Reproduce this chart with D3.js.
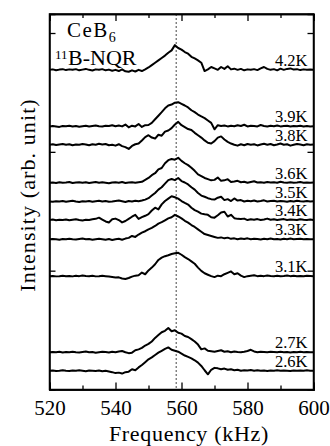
<!DOCTYPE html>
<html>
<head>
<meta charset="utf-8">
<script src="https://cdn.jsdelivr.net/npm/d3@7"></script>
<style>
  body { margin: 0; background: #fff; }
  svg text, svg tspan { font-family: "Liberation Serif", "Times New Roman", serif; fill: #000; }
</style>
</head>
<body>
<div id="chart"></div>
<script>
// frequency grid (kHz) and temperatures
const freqs = d3.range(520, 601, 1);
const temps = ['4.2K', '3.9K', '3.8K', '3.6K', '3.5K', '3.4K', '3.3K', '3.1K', '2.7K', '2.6K'];
// vertical offsets of each spectrum (arb. unit)
const offsets = [13.45, 11.07, 10.30, 8.70, 7.91, 7.13, 6.32, 4.77, 1.57, 0.79];
const xTicks = [520, 540, 560, 580, 600];
const yTicks = [5, 10, 15];
const markerFreq = 558.4;

// intensities, 520 -> 600 kHz in 1 kHz steps
const s42 = [0.0,0.02,-0.02,0.01,0.03,-0.01,0.02,0.0,0.03,-0.02,0.01,0.04,0.0,-0.03,0.02,0.0,0.03,-0.02,0.01,-0.04,
  0.0,-0.05,0.02,-0.06,-0.08,-0.02,-0.07,0.0,-0.05,0.02,0.1,0.2,0.3,0.4,0.5,0.6,0.72,0.82,1.04,0.92,
  0.85,0.75,0.68,0.55,0.48,0.4,0.3,-0.05,0.02,0.12,0.06,0.0,0.12,0.04,0.15,0.02,0.05,0.0,0.04,-0.02,
  0.02,0.0,0.03,-0.01,0.06,0.12,0.04,0.0,0.03,-0.02,0.05,0.0,0.04,0.06,0.01,0.03,-0.01,0.02,0.0,0.01,0.0];
const s39 = [0.0,0.02,0.0,-0.02,0.02,0.01,0.03,0.0,0.02,-0.01,0.01,0.03,0.0,0.02,0.04,0.01,0.0,0.03,0.02,0.05,
  0.01,0.04,0.0,0.08,-0.04,0.03,0.0,0.1,-0.02,0.05,0.06,0.15,0.3,0.45,0.6,0.76,0.88,0.92,1.0,1.02,
  0.95,0.88,0.8,0.68,0.6,0.5,0.42,0.35,0.25,0.15,-0.12,0.05,0.02,0.04,0.0,0.03,0.01,0.05,0.02,0.07,
  0.0,0.03,0.02,0.0,0.06,0.02,0.0,0.03,0.01,0.04,0.0,0.02,0.03,0.0,0.02,0.01,0.03,0.0,0.02,0.0,0.01];
const s38 = [0.0,0.02,-0.01,0.01,0.03,0.0,0.02,-0.02,0.01,0.0,0.03,0.01,-0.02,0.02,0.0,0.04,0.01,0.03,-0.02,0.0,
  -0.04,0.02,-0.06,-0.1,-0.18,-0.05,0.02,0.05,0.18,0.32,0.4,0.3,0.26,0.42,0.38,0.55,0.6,0.7,0.85,0.96,
  0.82,0.74,0.66,0.62,0.5,0.4,0.3,0.18,0.08,0.05,0.15,0.3,0.35,0.22,0.12,0.05,0.0,-0.04,0.02,-0.02,
  0.03,0.0,0.02,-0.03,0.01,0.04,0.0,0.03,-0.02,0.01,0.05,0.0,0.02,-0.04,0.0,0.03,0.01,-0.02,0.02,0.0,0.01];
const s36 = [0.0,0.01,-0.01,0.02,0.0,0.01,0.03,-0.01,0.01,0.02,0.0,0.02,-0.01,0.01,0.03,0.0,0.02,0.0,-0.02,0.01,
  0.02,0.0,0.03,-0.01,0.01,0.02,0.0,0.02,0.04,0.12,0.2,0.32,0.4,0.56,0.62,0.82,0.95,1.0,0.97,1.05,
  0.92,0.82,0.74,0.63,0.5,0.35,0.28,0.2,0.15,0.1,0.12,0.22,0.08,0.1,0.15,0.03,0.05,0.08,0.02,0.04,
  0.0,0.03,0.06,0.01,0.02,0.0,0.03,0.01,0.02,0.0,0.04,0.01,0.0,0.02,0.0,0.01,0.03,0.0,0.01,0.0,0.01];
const s35 = [0.0,-0.01,0.01,0.0,0.02,-0.01,0.01,0.03,0.0,-0.02,0.01,0.0,0.02,-0.01,0.01,0.03,0.0,0.02,-0.01,0.0,
  0.02,0.04,0.01,-0.02,0.02,0.0,0.03,0.01,0.04,0.08,0.14,0.25,0.36,0.5,0.6,0.75,0.9,0.95,0.9,0.99,
  0.86,0.8,0.72,0.6,0.5,0.36,0.25,0.2,0.14,0.1,0.08,0.16,0.2,0.06,0.1,0.02,0.13,0.04,0.06,0.0,
  0.03,0.01,0.04,0.0,0.02,0.05,0.0,0.02,0.03,0.0,0.02,0.01,-0.01,0.02,0.0,0.03,0.01,0.0,0.02,0.0,0.01];
const s34 = [0.0,0.02,-0.01,0.01,0.0,0.02,-0.01,0.01,0.03,0.0,-0.02,0.01,0.0,0.03,0.05,0.1,0.02,-0.06,-0.1,0.03,
  0.06,0.0,-0.1,-0.04,0.05,0.14,0.22,0.05,0.12,0.18,0.25,0.4,0.52,0.45,0.66,0.8,0.9,1.0,0.96,0.9,
  0.8,0.72,0.65,0.52,0.42,0.35,0.27,0.24,0.22,0.12,0.1,0.2,0.32,0.35,0.15,0.22,0.08,0.05,0.04,0.06,
  0.0,0.03,0.01,0.04,0.0,0.02,0.06,0.01,0.03,0.0,0.02,0.04,0.0,0.02,0.01,0.0,0.03,0.01,0.0,0.02,0.0];
const s33 = [0.0,0.01,0.0,-0.02,0.01,0.0,0.02,0.0,-0.01,0.01,0.03,0.0,0.01,-0.02,0.0,0.02,0.0,-0.02,0.01,-0.03,
  0.0,0.02,-0.02,0.03,0.06,0.14,0.1,0.2,0.28,0.34,0.42,0.48,0.56,0.66,0.72,0.8,0.88,0.93,1.03,0.96,
  0.88,0.78,0.7,0.6,0.52,0.42,0.32,0.22,0.18,0.14,0.1,0.06,0.08,0.04,0.07,0.02,0.04,0.0,0.03,0.01,
  0.04,0.0,0.02,0.01,-0.01,0.02,0.0,0.03,0.0,0.01,-0.01,0.02,0.0,0.03,0.0,0.01,0.02,0.0,0.01,0.0,0.0];
const s31 = [0.0,0.01,-0.01,0.0,0.02,0.0,0.01,-0.01,0.02,0.0,0.03,0.01,0.0,0.02,-0.01,0.0,0.02,0.0,-0.02,-0.04,
  -0.06,-0.05,-0.1,-0.12,-0.08,-0.02,0.02,0.04,0.15,0.08,0.24,0.36,0.5,0.68,0.78,0.84,0.88,0.93,0.96,0.98,
  0.9,0.8,0.72,0.62,0.52,0.36,0.22,0.12,0.06,0.0,-0.04,0.02,0.0,0.08,0.14,0.2,0.08,0.12,0.02,-0.04,
  0.0,0.02,0.04,0.0,0.02,0.0,0.03,0.01,0.0,0.02,0.0,0.01,0.03,0.0,0.02,0.0,0.01,0.0,0.02,0.01,0.0];
const s27 = [0.0,0.01,0.0,0.02,-0.01,0.01,0.0,0.02,0.0,-0.01,0.01,0.03,0.0,0.01,-0.02,0.0,0.02,0.01,-0.01,0.02,
  0.0,0.03,0.05,0.0,-0.04,-0.02,0.08,0.12,0.18,0.28,0.35,0.45,0.6,0.72,0.84,0.9,1.02,0.88,0.92,0.82,
  0.78,0.68,0.64,0.55,0.45,0.32,0.12,0.16,0.06,0.04,0.02,0.05,0.08,0.02,0.04,0.0,0.03,0.01,0.0,0.02,
  0.05,0.1,0.03,0.0,0.02,0.01,0.0,0.02,0.01,0.0,0.02,0.0,0.01,-0.01,0.01,0.0,0.02,0.0,0.01,0.0,0.0];
const s26 = [0.0,0.01,-0.01,0.0,0.02,0.0,-0.01,0.01,0.0,0.02,0.0,-0.02,0.01,0.0,-0.01,0.01,-0.02,0.0,-0.03,-0.06,
  -0.1,-0.08,-0.12,-0.06,-0.04,0.06,0.02,0.14,0.24,0.36,0.48,0.56,0.66,0.76,0.84,0.92,0.98,0.88,0.84,0.8,
  0.72,0.64,0.58,0.52,0.44,0.34,0.2,0.02,-0.15,0.04,0.12,0.1,0.06,0.09,0.04,0.06,0.02,0.04,0.0,0.02,
  0.01,0.03,0.0,0.02,0.0,0.01,-0.01,0.01,0.0,0.02,0.0,0.01,0.0,-0.01,0.01,0.0,0.01,0.0,0.02,0.0,0.0];
const spectra = [s42, s39, s38, s36, s35, s34, s33, s31, s27, s26];

const margin = { top: 14, right: 16.5, bottom: 56.5, left: 49.5 };
const width = 330 - margin.left - margin.right;
const height = 446 - margin.top - margin.bottom;

const x = d3.scaleLinear().domain([520, 600]).range([0, width]);
const y = d3.scaleLinear().domain([0, 15.8]).range([height, 0]);

const svg = d3.select('#chart')
  .append('svg')
  .attr('width', 330)
  .attr('height', 446);

const g = svg.append('g')
  .attr('transform', `translate(${margin.left},${margin.top})`);

// dotted marker line
g.append('line')
  .attr('x1', x(markerFreq)).attr('x2', x(markerFreq))
  .attr('y1', 0).attr('y2', height)
  .attr('stroke', '#666')
  .attr('stroke-width', 1.2)
  .attr('stroke-dasharray', '2,2');

// spectra
const line = d3.line()
  .x((d, i) => x(freqs[i]))
  .y(d => y(d));

spectra.forEach((s, k) => {
  g.append('path')
    .datum(s.map(v => v + offsets[k]))
    .attr('fill', 'none')
    .attr('stroke', '#000')
    .attr('stroke-width', 2)
    .attr('stroke-linejoin', 'round')
    .attr('d', line);

  g.append('text')
    .attr('x', width - 6)
    .attr('y', y(offsets[k]) - 4)
    .attr('text-anchor', 'end')
    .attr('font-size', 16.5)
    .text(temps[k]);
});

// axes (ticks inward)
const minor = d3.range(530, 600, 20);
g.append('g')
  .attr('transform', `translate(0,${height})`)
  .call(d3.axisBottom(x).tickValues(xTicks).tickSize(-7).tickPadding(10.5).tickFormat(d3.format('d')))
  .call(a => a.selectAll('text').attr('font-size', 21));
g.append('g')
  .attr('transform', `translate(0,${height})`)
  .call(d3.axisBottom(x).tickValues(minor).tickSize(-4).tickFormat(''));
g.append('g')
  .call(d3.axisTop(x).tickValues(xTicks).tickSize(-7).tickFormat(''));
g.append('g')
  .call(d3.axisTop(x).tickValues(minor).tickSize(-4).tickFormat(''));
g.append('g')
  .call(d3.axisLeft(y).tickValues(yTicks).tickSize(-6).tickFormat(''));
g.append('g')
  .attr('transform', `translate(${width},0)`)
  .call(d3.axisRight(y).tickValues(yTicks).tickSize(-6).tickFormat(''));

g.selectAll('.domain').attr('stroke', '#000').attr('stroke-width', 1.5);
g.selectAll('.tick line').attr('stroke', '#000').attr('stroke-width', 1.3);
g.selectAll('.tick text').attr('font-family', '"Liberation Serif", serif');

g.append('rect')
  .attr('width', width).attr('height', height)
  .attr('fill', 'none').attr('stroke', '#000').attr('stroke-width', 1.5);

// titles
svg.append('text')
  .attr('x', 189)
  .attr('y', 441)
  .attr('text-anchor', 'middle')
  .attr('font-size', 22)
  .attr('letter-spacing', 0.7)
  .text('Frequency (kHz)');

svg.append('text')
  .attr('transform', 'translate(35,195) rotate(-90)')
  .attr('text-anchor', 'middle')
  .attr('font-size', 22)
  .attr('letter-spacing', 1.1)
  .text('Intensity (arb. unit)');

// sample label
const lab1 = svg.append('text').attr('x', 67).attr('y', 37).attr('font-size', 21).attr('letter-spacing', 1.5);
lab1.append('tspan').attr('fill', '#000').text('CeB');
lab1.append('tspan').attr('fill', '#000').attr('font-size', 14).attr('dy', 4.5).attr('letter-spacing', 0).text('6');

svg.append('text').attr('x', 55).attr('y', 58.5).attr('font-size', 13).text('11');
svg.append('text').attr('x', 68).attr('y', 64.5).attr('font-size', 22).text('B-NQR');
</script>
</body>
</html>
